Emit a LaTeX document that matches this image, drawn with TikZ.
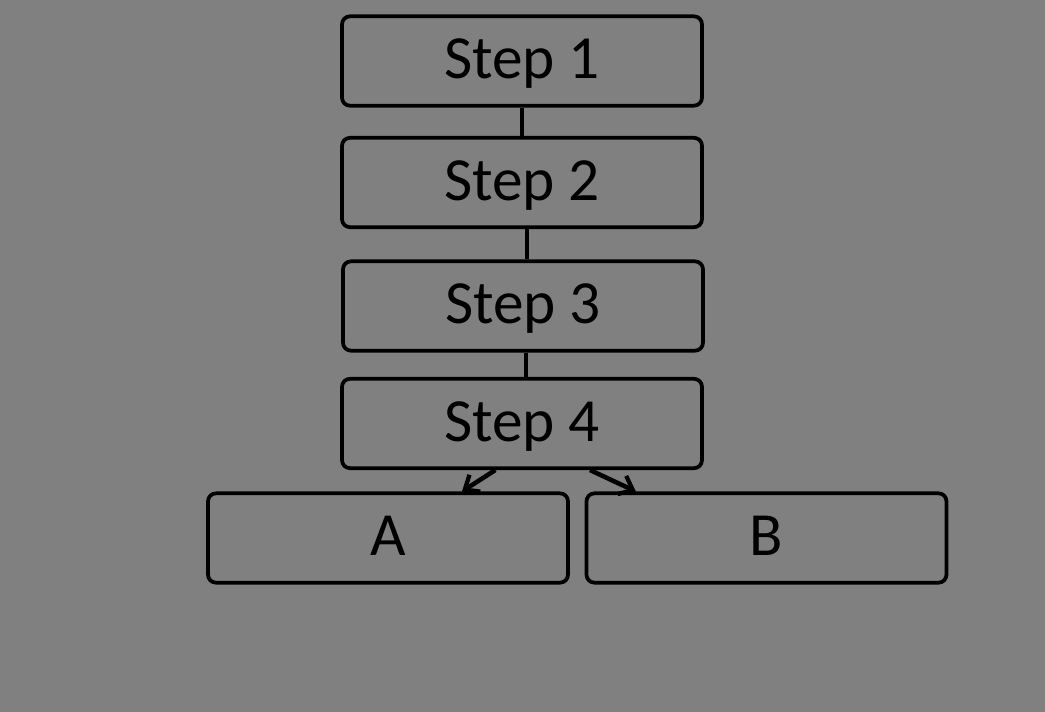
\documentclass[tikz,border=0pt]{standalone}
\usepackage{fontspec}
\setmainfont{Carlito}
\usetikzlibrary{arrows.meta}
\definecolor{bg}{HTML}{808080}
\begin{document}
\begin{tikzpicture}[x=0.75pt,y=-0.75pt,
  box/.style={draw=black,line width=2.8pt,rounded corners=6pt,minimum width=270pt,minimum height=67pt,inner sep=0pt,text depth=3pt,font=\fontsize{46}{50}\selectfont,text=black},
  link/.style={draw=black,line width=3.4pt},
  arr/.style={link,-{Straight Barb[length=9pt,width=15pt,line width=3.2pt]}}]
\fill[bg] (0,0) rectangle (1045,712);
\useasboundingbox (0,0) rectangle (1045,712);
\node[box] (s1) at (522,61) {Step 1};
\node[box] (s2) at (522,182.5) {Step 2};
\node[box] (s3) at (523,306) {Step 3};
\node[box] (s4) at (522,423.5) {Step 4};
\node[box] (a) at (388,538) {A};
\node[box] (b) at (766.5,538) {B};
\draw[link] (s1.south) -- (s2.north);
\draw[link] ([xshift=3.75pt]s2.south) -- ([xshift=3pt]s3.north);
\draw[link] ([xshift=2.25pt]s3.south) -- ([xshift=3pt]s4.north);
\draw[arr] ([xshift=-20pt]s4.south) -- ([xshift=55.5pt]a.north);
\draw[arr] ([xshift=51pt]s4.south) -- ([xshift=-98pt]b.north);
\end{tikzpicture}
\end{document}
